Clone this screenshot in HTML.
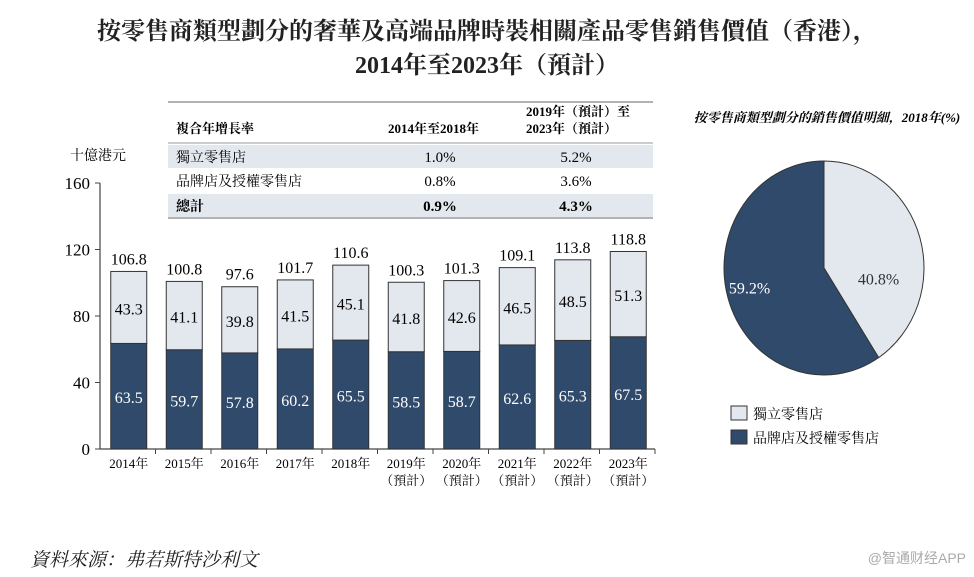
<!DOCTYPE html>
<html><head><meta charset="utf-8">
<style>
body{margin:0;background:#fff;}
#wrap{position:relative;width:974px;height:577px;overflow:hidden;font-family:"Liberation Serif","Noto Serif CJK SC",serif;color:#222;}
.t{position:absolute;white-space:nowrap;}
</style></head><body>
<div id="wrap">
<div class="t" style="left:0;width:974px;text-align:center;top:11px;font-size:24px;font-weight:bold;">按零售商類型劃分的奢華及高端品牌時裝相關產品零售銷售價值（香港），</div>
<div class="t" style="left:0;width:974px;text-align:center;top:45px;font-size:24px;font-weight:bold;">2014年至2023年（預計）</div>
<svg width="974" height="577" style="position:absolute;left:0;top:0">
<g id="table" font-size="14">
<line x1="168" y1="102" x2="653" y2="102" stroke="#999" stroke-width="1.5"/>
<line x1="168" y1="143" x2="653" y2="143" stroke="#999" stroke-width="1"/>
<rect x="168" y="145" width="485" height="23" fill="#e3e7ee"/>
<rect x="168" y="194" width="485" height="23" fill="#e3e7ee"/>
<line x1="168" y1="218" x2="653" y2="218" stroke="#999" stroke-width="1.5"/>
<text x="176" y="133" font-weight="bold" font-size="13">複合年增長率</text>
<text x="388" y="133" font-weight="bold" font-size="13">2014年至2018年</text>
<text x="526" y="116" font-weight="bold" font-size="13">2019年（預計）至</text>
<text x="526" y="133" font-weight="bold" font-size="13">2023年（預計）</text>
<text x="176" y="162">獨立零售店</text><text x="440" y="162" text-anchor="middle" font-size="15">1.0%</text><text x="576" y="162" text-anchor="middle" font-size="15">5.2%</text>
<text x="176" y="186">品牌店及授權零售店</text><text x="440" y="186" text-anchor="middle" font-size="15">0.8%</text><text x="576" y="186" text-anchor="middle" font-size="15">3.6%</text>
<text x="176" y="211" font-weight="bold">總計</text><text x="440" y="211" text-anchor="middle" font-size="15" font-weight="bold">0.9%</text><text x="576" y="211" text-anchor="middle" font-size="15" font-weight="bold">4.3%</text>
</g>
<text x="70" y="160" font-size="14">十億港元</text>
<g id="axes"></g><g id="bars"></g><g id="pie"></g>
<text x="827" y="122" text-anchor="middle" font-size="13" font-weight="bold" font-style="italic">按零售商類型劃分的銷售價值明細，2018年(%)</text>
<rect x="731" y="406" width="16" height="14" fill="#e3e7ee" stroke="#333"/>
<text x="753" y="419" font-size="14">獨立零售店</text>
<rect x="731" y="430" width="16" height="14" fill="#2f4a6b" stroke="#333"/>
<text x="753" y="443" font-size="14">品牌店及授權零售店</text>
</svg>
<div class="t" style="left:30px;top:545px;font-size:19px;font-style:italic;">資料來源：弗若斯特沙利文</div>
<div class="t" style="right:8px;top:548px;font-size:14px;color:#aaa;font-family:'Liberation Sans','Noto Sans CJK SC',sans-serif;">@智通财经APP</div>
</div>
<script>
const years=["2014年","2015年","2016年","2017年","2018年","2019年","2020年","2021年","2022年","2023年"];
const forecast=[false,false,false,false,false,true,true,true,true,true];
const brand=[63.5,59.7,57.8,60.2,65.5,58.5,58.7,62.6,65.3,67.5];
const indep=[43.3,41.1,39.8,41.5,45.1,41.8,42.6,46.5,48.5,51.3];
const totals=[106.8,100.8,97.6,101.7,110.6,100.3,101.3,109.1,113.8,118.8];
const yTicks=[0,40,80,120,160];
const pieVals=[40.8,59.2];
const NS="http://www.w3.org/2000/svg";
function mk(t,a,p){const e=document.createElementNS(NS,t);for(const k in a)e.setAttribute(k,a[k]);p.appendChild(e);return e;}
const x0=100,band=55.5,y0=449,ymax=160,yTop=183;
const ys=v=>y0-(v/ymax)*(y0-yTop);
const xs=i=>x0+band*i;
const ax=document.getElementById('axes'),bg=document.getElementById('bars');
let l=mk('line',{x1:x0,y1:yTop,x2:x0,y2:y0,stroke:'#444','stroke-width':1.2},ax);


l=mk('line',{x1:x0,y1:y0,x2:xs(years.length),y2:y0,stroke:'#444','stroke-width':1.2},ax);


yTicks.forEach(v=>{mk('line',{x1:x0-5,y1:ys(v),x2:x0,y2:ys(v),stroke:'#444'},ax);
 const t=mk('text',{x:x0-10,y:ys(v)+6,'text-anchor':'end','font-size':17},ax);t.textContent=v;
 
 });
years.forEach((y,i)=>{
 mk('line',{x1:xs(i+1),y1:y0,x2:xs(i+1),y2:y0+5,stroke:'#444'},ax);
 const cx=xs(i)+band/2+1;
 let t=mk('text',{x:cx,y:y0+19,'text-anchor':'middle','font-size':13},ax);t.textContent=y;
 
 
 if(forecast[i]){t=mk('text',{x:cx,y:y0+36,'text-anchor':'middle','font-size':13},ax);t.textContent='（預計）';
 
 }
 const w=36,bx=cx-w/2;
 let r=mk('rect',{x:bx,y:ys(brand[i]),width:w,height:y0-ys(brand[i]),fill:'#2f4a6b',stroke:'#333'},bg);
 
 
 r=mk('rect',{x:bx,y:ys(brand[i]+indep[i]),width:w,height:ys(brand[i])-ys(brand[i]+indep[i]),fill:'#e3e7ee',stroke:'#333'},bg);
 
 
 t=mk('text',{x:cx,y:ys(brand[i]/2)+7,'text-anchor':'middle','font-size':16,fill:'#fff'},bg);t.textContent=brand[i];
 
 
 t=mk('text',{x:cx,y:ys(brand[i]+indep[i]/2)+7,'text-anchor':'middle','font-size':16},bg);t.textContent=indep[i];
 
 
 t=mk('text',{x:cx,y:ys(totals[i])-7,'text-anchor':'middle','font-size':16},bg);t.textContent=totals[i];
 
 
});
// pie
const pg=document.getElementById('pie');
const pcx=824,pcy=268,rx=100,ry=107;const cols=['#e3e7ee','#2f4a6b'];
let a0=-Math.PI/2;const sum=pieVals.reduce((a,b)=>a+b,0);
pieVals.forEach((v,i)=>{
 const a1=a0+v/sum*2*Math.PI;
 const p=mk('path',{d:`M${pcx},${pcy} L${pcx+rx*Math.cos(a0)},${pcy+ry*Math.sin(a0)} A${rx},${ry} 0 ${a1-a0>Math.PI?1:0} 1 ${pcx+rx*Math.cos(a1)},${pcy+ry*Math.sin(a1)} Z`,fill:cols[i],stroke:'#333','stroke-width':1},pg);
 
 
 const am=(a0+a1)/2;
 const t=mk('text',{x:pcx+rx*0.6*Math.cos(am)+(i==0?-3:-17),y:pcy+ry*0.6*Math.sin(am)+(i==0?35:7),'text-anchor':'middle','font-size':16,fill:i==0?'#333':'#fff'},pg);
 t.textContent=v.toFixed(1)+'%';
 
 
 a0=a1;});
</script>
</body></html>
